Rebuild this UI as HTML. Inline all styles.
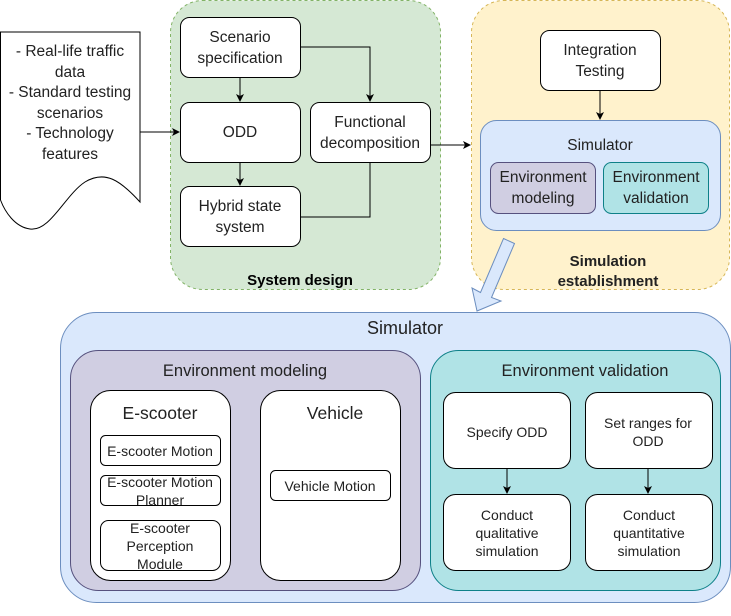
<!DOCTYPE html>
<html><head><meta charset="utf-8"><style>body{margin:0;background:#fff}svg{display:block}text{font-family:"Liberation Sans",sans-serif;fill:#222}</style></head>
<body>
<svg width="731" height="616" viewBox="0 0 731 616" xmlns="http://www.w3.org/2000/svg">
<defs><marker id="a" markerWidth="8" markerHeight="8" refX="7" refY="4" orient="auto" markerUnits="userSpaceOnUse"><path d="M0,0 L8,4 L0,8 L2,4 Z" fill="#000"/></marker></defs>
<path d="M0.5,32 H140 V202 C120,180 105,170 85,182 C65,195 50,232 30,229 C15,227 5,212 0.5,200 Z" fill="#fff" stroke="#000"/>
<g font-size="15.5" text-anchor="middle">
<text x="70" y="56">- Real-life traffic</text><text x="70" y="77">data</text>
<text x="70" y="97">- Standard testing</text><text x="70" y="118">scenarios</text>
<text x="70" y="138">- Technology</text><text x="70" y="159">features</text></g>
<rect x="170.5" y="0.5" width="270" height="289" rx="32" fill="#d5e8d4" stroke="#82b366" stroke-dasharray="3,3"/>
<g fill="#fff" stroke="#000">
<rect x="180.5" y="17.5" width="120" height="60" rx="9"/>
<rect x="180.5" y="102.5" width="120" height="60" rx="9"/>
<rect x="180.5" y="186.5" width="120" height="60" rx="9"/>
<rect x="310.5" y="102.5" width="120" height="60" rx="9"/></g>
<g font-size="15.5" text-anchor="middle">
<text x="240" y="42">Scenario</text><text x="240" y="63">specification</text>
<text x="240" y="137">ODD</text>
<text x="240" y="211">Hybrid state</text><text x="240" y="232">system</text>
<text x="370" y="127">Functional</text><text x="370" y="148">decomposition</text></g>
<text x="300" y="285" font-size="15" font-weight="bold" text-anchor="middle" style="fill:#000">System design</text>
<g stroke="#000" fill="none">
<path d="M140,132 H179" marker-end="url(#a)"/>
<path d="M240,78 V101" marker-end="url(#a)"/>
<path d="M240,163 V185" marker-end="url(#a)"/>
<path d="M300,47 H370 V101" marker-end="url(#a)"/>
<path d="M300,217 H370 V163"/>
<path d="M430,145 H470" marker-end="url(#a)"/></g>
<rect x="471.5" y="0.5" width="258" height="289" rx="32" fill="#fff2cc" stroke="#d6b656" stroke-dasharray="3,3"/>
<rect x="540.5" y="30.5" width="120" height="60" rx="9" fill="#fff" stroke="#000"/>
<text x="600" y="55" font-size="15.5" text-anchor="middle">Integration</text><text x="600" y="76" font-size="15.5" text-anchor="middle">Testing</text>
<path d="M600,91 V119" stroke="#000" marker-end="url(#a)"/>
<rect x="480.5" y="120.5" width="240" height="110" rx="16" fill="#dae8fc" stroke="#6c8ebf"/>
<text x="600" y="150" font-size="15.5" text-anchor="middle">Simulator</text>
<rect x="490.5" y="162.5" width="105" height="51" rx="8" fill="#d0cee2" stroke="#56517e"/>
<rect x="603.5" y="162.5" width="105" height="51" rx="8" fill="#b0e3e6" stroke="#0e8088"/>
<g font-size="15.5" text-anchor="middle"><text x="543" y="182">Environment</text><text x="543" y="203">modeling</text>
<text x="656" y="182">Environment</text><text x="656" y="203">validation</text></g>
<g font-size="15" font-weight="bold" text-anchor="middle" style="fill:#000"><text x="608" y="266">Simulation</text><text x="608" y="286">establishment</text></g>
<rect x="60.5" y="312.5" width="670" height="290" rx="36" fill="#dae8fc" stroke="#6c8ebf"/>
<polygon points="503.5,238.5 514.5,243.5 491.5,297.5 501,301 477,311 472,288 480.5,292.5" fill="#dae8fc" stroke="#6c8ebf"/>
<text x="405" y="334" font-size="18" text-anchor="middle">Simulator</text>
<rect x="70.5" y="350.5" width="350" height="240" rx="28" fill="#d0cee2" stroke="#56517e"/>
<text x="245" y="376" font-size="16.5" text-anchor="middle">Environment modeling</text>
<rect x="90.5" y="390.5" width="140" height="190" rx="20" fill="#fff" stroke="#000"/>
<rect x="260.5" y="390.5" width="140" height="190" rx="20" fill="#fff" stroke="#000"/>
<text x="160" y="419" font-size="17.5" text-anchor="middle">E-scooter</text>
<text x="335" y="419" font-size="17.5" text-anchor="middle">Vehicle</text>
<g fill="#fff" stroke="#000"><rect x="100.5" y="435.5" width="120" height="30" rx="5"/><rect x="100.5" y="475.5" width="120" height="30" rx="5"/><rect x="100.5" y="520.5" width="120" height="50" rx="8"/><rect x="270.5" y="470.5" width="120" height="30" rx="5"/></g>
<g font-size="14" text-anchor="middle"><text x="160" y="456">E-scooter Motion</text><text x="160" y="487">E-scooter Motion</text><text x="160" y="505">Planner</text>
<text x="160" y="533">E-scooter</text><text x="160" y="551">Perception</text><text x="160" y="569">Module</text><text x="330" y="491">Vehicle Motion</text></g>
<rect x="430.5" y="350.5" width="290" height="240" rx="28" fill="#b0e3e6" stroke="#0e8088"/>
<text x="585" y="376" font-size="16.5" text-anchor="middle">Environment validation</text>
<g fill="#fff" stroke="#000"><rect x="443.5" y="392.5" width="127" height="76" rx="12"/><rect x="585.5" y="392.5" width="127" height="76" rx="12"/><rect x="443.5" y="494.5" width="127" height="76" rx="12"/><rect x="585.5" y="494.5" width="127" height="76" rx="12"/></g>
<g font-size="14" text-anchor="middle"><text x="507" y="437">Specify ODD</text><text x="648" y="428">Set ranges for</text><text x="648" y="446">ODD</text>
<text x="507" y="520">Conduct</text><text x="507" y="538">qualitative</text><text x="507" y="556">simulation</text>
<text x="649" y="520">Conduct</text><text x="649" y="538">quantitative</text><text x="649" y="556">simulation</text></g>
<g stroke="#000"><path d="M507,469 V493" marker-end="url(#a)"/><path d="M648,469 V493" marker-end="url(#a)"/></g>
</svg>
</body></html>
